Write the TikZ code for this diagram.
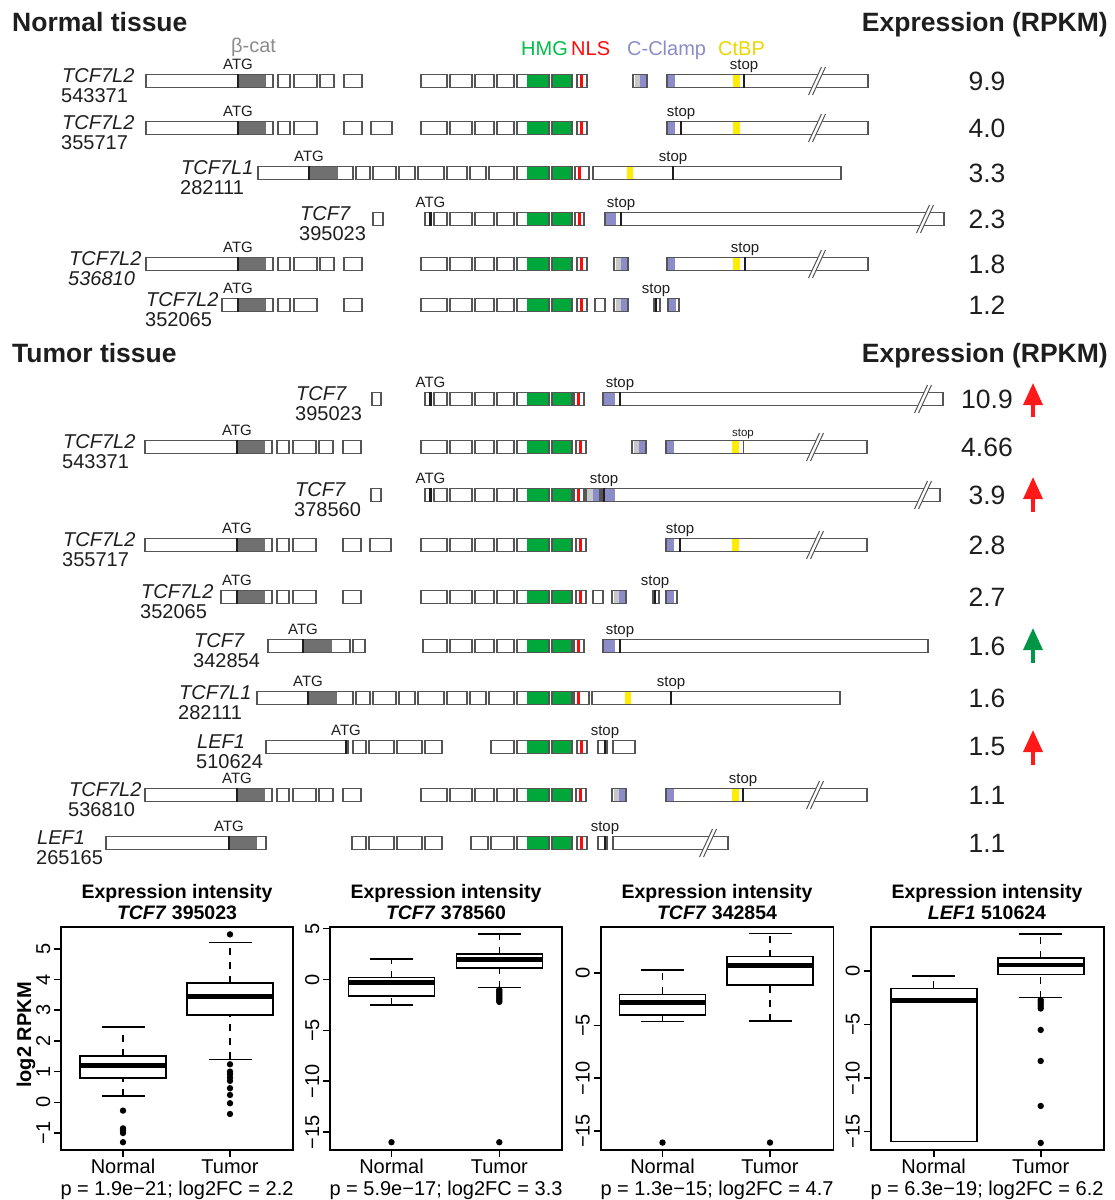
\documentclass[tikz,border=0pt]{standalone}
\usepackage{fontspec}
\setmainfont{Liberation Sans}
\usetikzlibrary{arrows.meta}
\definecolor{hmg}{RGB}{0,168,60}
\definecolor{hmgtxt}{RGB}{0,190,70}
\definecolor{nls}{RGB}{255,10,10}
\definecolor{clamp}{RGB}{140,140,200}
\definecolor{ctbp}{RGB}{255,236,0}
\definecolor{ctbptxt}{RGB}{235,215,0}
\definecolor{bcat}{RGB}{112,112,112}
\definecolor{bcattxt}{RGB}{140,140,140}
\definecolor{ltgrey}{RGB}{200,200,200}
\definecolor{edge}{RGB}{85,85,85}
\definecolor{ink}{RGB}{30,30,30}
\definecolor{upred}{RGB}{255,25,25}
\definecolor{upgreen}{RGB}{0,150,70}
\tikzset{
  exon/.style={draw=edge, line width=1.2pt},
  mk/.style={draw=ink, line width=2.6pt},
  tag/.style={font=\fontsize{15}{15}\selectfont, text=ink, inner sep=0pt},
  gname/.style={font=\fontsize{20}{20}\selectfont\itshape, text=ink, inner sep=0pt},
  gid/.style={font=\fontsize{20}{20}\selectfont, text=ink, inner sep=0pt},
  val/.style={font=\fontsize{26.5}{26.5}\selectfont, text=ink, inner sep=0pt},
  headline/.style={font=\fontsize{26.5}{26.5}\selectfont\bfseries, text=ink, inner sep=0pt},
  leg/.style={font=\fontsize{20}{20}\selectfont, inner sep=0pt, anchor=base west},
  cut/.style={draw=edge, line width=1pt},
  uparrow/.style={-{Triangle[length=22pt,width=19pt]}, line width=3.5pt, draw=#1},
  frame/.style={draw=black, line width=1.6pt},
  bxs/.style={draw=black, line width=1.6pt},
  med/.style={draw=black, line width=4.8pt},
  whisk/.style={draw=black, line width=1.4pt, dash pattern=on 7pt off 7pt},
  ptitle/.style={font=\fontsize{19.5}{19.5}\selectfont\bfseries, inner sep=0pt, anchor=base},
  axlab/.style={font=\fontsize{20}{20}\selectfont, inner sep=0pt, anchor=base},
  ylab/.style={font=\fontsize{20}{20}\selectfont\bfseries, inner sep=0pt, anchor=base, rotate=90},
}
\newcommand{\exons}[2]{\foreach \a/\b in {#2}{\draw[exon] (\a,#1-6.5) rectangle (\b,#1+6.5);}}
\newcommand{\segfill}[4]{\fill[#1] (#2,#4-6.5) rectangle (#3,#4+6.5);}
\newcommand{\hmgcore}[3]{\segfill{hmg}{527}{549}{#1}\segfill{hmg}{552}{572}{#1}%
  \segfill{nls}{#2+2.5}{#2+5.5}{#1}\exons{#1}{517/549,552/572,#2/#3}}
\newcommand{\codon}[4]{\draw[mk] (#2,#3+6.5) -- (#2,#3-7.5);
  \node[tag, anchor=base] (#1) at (#2,#3-11.5) {#4};}
\newcommand{\brk}[2]{\fill[white] (#1-8.5,#2+14) -- (#1+4.5,#2-14) -- (#1+8.5,#2-14) -- (#1-4.5,#2+14) -- cycle;
  \draw[cut] (#1-8.5,#2+14) -- (#1+4.5,#2-14) (#1-4.5,#2+14) -- (#1+8.5,#2-14);}
\newcommand{\glab}[5]{\node[gname, anchor=base west] (#1g) at (#2,#3+1) {#4};
  \node[gid, anchor=base west] (#1i) at (#2-1,#3+21) {#5};}
\newcommand{\rpkm}[3]{\node[val] (#1) at (987,#2) {#3};}
\newcommand{\bxp}[6]{\draw[whisk] (#1,#2) -- (#1,#3) (#1,#5) -- (#1,#6);
  \draw[bxs] (#1-21.5,#2) -- (#1+21.5,#2) (#1-21.5,#6) -- (#1+21.5,#6);
  \draw[bxs] (#1-43,#3) rectangle (#1+43,#5);
  \draw[med] (#1-43,#4) -- (#1+43,#4);}

\begin{document}
\begin{tikzpicture}[x=1pt, y=-1pt]
\useasboundingbox (0,0) rectangle (1115,1200);

% normal tissue
\node[headline, anchor=base west] (nt) at (12,31) {Normal tissue};
\node[headline, anchor=base east] (ne) at (1108,31) {Expression (RPKM)};
\node[leg, text=bcattxt] (lb) at (231,52) {β-cat};
\node[leg, text=hmgtxt] (lh) at (521,55) {HMG};
\node[leg, text=nls] (ln) at (571,55) {NLS};
\node[leg, text=clamp] (lc) at (627,55) {C-Clamp};
\node[leg, text=ctbptxt] (lt) at (718,55) {CtBP};

\glab{n1}{62}{81}{TCF7L2}{543371}
\segfill{bcat}{238}{266}{81}\segfill{ltgrey}{635}{640}{81}\segfill{clamp}{640}{647}{81}
\segfill{clamp}{667}{675}{81}\segfill{ctbp}{733}{740}{81}
\hmgcore{81}{577}{587}
\exons{81}{146/273,278/290,294/317,320/334,344/362,421/447,450/472,475/494,497/514,633/647,667/868}
\codon{n1a}{238}{81}{ATG}\codon{n1s}{744}{81}{stop}
\brk{817}{81}
\rpkm{n1v}{81}{9.9}

\glab{n2}{62}{128}{TCF7L2}{355717}
\segfill{bcat}{238}{266}{128}\segfill{clamp}{667}{675}{128}\segfill{ctbp}{733}{740}{128}
\hmgcore{128}{577}{587}
\exons{128}{146/273,278/290,294/317,344/362,371/392,421/447,450/472,475/494,497/514,667/868}
\codon{n2a}{238}{128}{ATG}\codon{n2s}{681}{128}{stop}
\brk{817}{128}
\rpkm{n2v}{128}{4.0}

\glab{n3}{181}{173}{TCF7L1}{282111}
\segfill{bcat}{309}{338}{173}\segfill{ctbp}{627}{633}{173}
\hmgcore{173}{575}{589}
\exons{173}{258/353,356/370,373/396,399/415,418/444,447/467,470/486,489/514,593/841}
\codon{n3a}{309}{173}{ATG}\codon{n3s}{673}{173}{stop}
\rpkm{n3v}{173}{3.3}

\glab{n4}{300}{219}{TCF7}{395023}
\segfill{clamp}{605}{616}{219}
\hmgcore{219}{575}{584}
\exons{219}{373/383,425/431,434/447,450/472,475/494,497/514,605/944}
\codon{n4a}{430.5}{219}{ATG}\codon{n4s}{621}{219}{stop}
\brk{925}{219}
\rpkm{n4v}{219}{2.3}

\glab{n5}{69}{264}{TCF7L2}{\itshape 536810}
\segfill{bcat}{238}{266}{264}\segfill{ltgrey}{616}{621}{264}\segfill{clamp}{621}{628}{264}
\segfill{clamp}{667}{675}{264}\segfill{ctbp}{733}{740}{264}
\hmgcore{264}{577}{587}
\exons{264}{146/273,278/290,294/317,320/334,344/362,421/447,450/472,475/494,497/514,614/628,667/868}
\codon{n5a}{238}{264}{ATG}\codon{n5s}{745}{264}{stop}
\brk{817}{264}
\rpkm{n5v}{264}{1.8}

\glab{n6}{146}{305}{TCF7L2}{352065}
\segfill{bcat}{238}{266}{305}\segfill{ltgrey}{616}{621}{305}\segfill{clamp}{621}{628}{305}
\segfill{clamp}{668}{676}{305}
\hmgcore{305}{577}{587}
\exons{305}{222/273,278/290,294/317,344/362,421/447,450/472,475/494,497/514,595/605,614/628,654/660,668/679}
\codon{n6a}{238}{305}{ATG}\codon{n6s}{656}{305}{stop}
\rpkm{n6v}{305}{1.2}

% tumor tissue
\node[headline, anchor=base west] (tt) at (12,362) {Tumor tissue};
\node[headline, anchor=base east] (te) at (1108,362) {Expression (RPKM)};

\glab{t1}{296}{399}{TCF7}{395023}
\segfill{clamp}{603}{615}{399}
\hmgcore{399}{574}{584}
\exons{399}{372/381,425/431,434/447,450/472,475/494,497/514,603/943}
\codon{t1a}{430.5}{399}{ATG}\codon{t1s}{620}{399}{stop}
\brk{923}{399}
\rpkm{t1v}{399}{10.9}
\coordinate (u1s) at (1033,417); \coordinate (u1e) at (1033,383);
\draw[uparrow=upred] (u1s) -- (u1e);

\glab{t2}{63}{447}{TCF7L2}{543371}
\segfill{bcat}{237}{265}{447}\segfill{ltgrey}{634}{639}{447}\segfill{clamp}{639}{646}{447}
\segfill{clamp}{666}{674}{447}\segfill{ctbp}{732}{739}{447}
\hmgcore{447}{576}{586}
\exons{447}{145/272,277/289,293/316,319/333,343/361,421/447,450/472,475/494,497/514,632/646,666/867}
\codon{t2a}{237}{447}{ATG}
\draw[edge, line width=1pt] (743,453.5) -- (743,440);
\node[tag, font=\fontsize{11.5}{11.5}\selectfont, anchor=base] (t2s) at (743,436.5) {stop};
\brk{815}{447}
\rpkm{t2v}{447}{4.66}

\glab{t3}{295}{495}{TCF7}{378560}
\segfill{ltgrey}{587}{593}{495}\segfill{clamp}{593}{600}{495}\segfill{clamp}{605}{615}{495}
\hmgcore{495}{574}{584}
\exons{495}{371/381,425/431,434/447,450/472,475/494,497/514,586/600,602/940}
\codon{t3a}{430.5}{495}{ATG}\codon{t3s}{604}{495}{stop}
\brk{923}{495}
\rpkm{t3v}{495}{3.9}
\coordinate (u3s) at (1033,512); \coordinate (u3e) at (1033,477);
\draw[uparrow=upred] (u3s) -- (u3e);

\glab{t4}{63}{545}{TCF7L2}{355717}
\segfill{bcat}{237}{265}{545}\segfill{clamp}{666}{674}{545}\segfill{ctbp}{732}{739}{545}
\hmgcore{545}{576}{586}
\exons{545}{145/272,277/289,293/316,343/361,370/391,421/447,450/472,475/494,497/514,666/867}
\codon{t4a}{237}{545}{ATG}\codon{t4s}{680}{545}{stop}
\brk{815}{545}
\rpkm{t4v}{545}{2.8}

\glab{t5}{141}{597}{TCF7L2}{352065}
\segfill{bcat}{237}{265}{597}\segfill{ltgrey}{614}{619}{597}\segfill{clamp}{619}{626}{597}
\segfill{clamp}{666}{674}{597}
\hmgcore{597}{576}{586}
\exons{597}{221/272,277/289,293/316,343/361,421/447,450/472,475/494,497/514,593/603,612/626,653/659,666/677}
\codon{t5a}{237}{597}{ATG}\codon{t5s}{655}{597}{stop}
\rpkm{t5v}{597}{2.7}

\glab{t6}{194}{646}{TCF7}{342854}
\segfill{bcat}{303}{332}{646}\segfill{clamp}{603}{615}{646}
\hmgcore{646}{574}{584}
\exons{646}{268/350,353/365,423/447,450/472,475/494,497/514,603/928}
\codon{t6a}{303}{646}{ATG}\codon{t6s}{620}{646}{stop}
\rpkm{t6v}{646}{1.6}
\coordinate (u6s) at (1033,663); \coordinate (u6e) at (1033,628);
\draw[uparrow=upgreen] (u6s) -- (u6e);

\glab{t7}{179}{698}{TCF7L1}{282111}
\segfill{bcat}{308}{337}{698}\segfill{ctbp}{625}{631}{698}
\hmgcore{698}{574}{589}
\exons{698}{257/353,356/370,373/396,399/415,418/444,447/467,470/486,489/514,592/840}
\codon{t7a}{308}{698}{ATG}\codon{t7s}{671}{698}{stop}
\rpkm{t7v}{698}{1.6}

\glab{t8}{197}{747}{LEF1}{510624}
\hmgcore{747}{577}{587}
\exons{747}{266/348,353/366,369/394,397/422,425/442,491/514,598/607,613/635}
\codon{t8a}{346}{747}{ATG}\codon{t8s}{605}{747}{stop}
\rpkm{t8v}{747}{1.5}
\coordinate (u8s) at (1033,765); \coordinate (u8e) at (1033,730);
\draw[uparrow=upred] (u8s) -- (u8e);

\glab{t9}{69}{795}{TCF7L2}{536810}
\segfill{bcat}{237}{265}{795}\segfill{ltgrey}{614}{619}{795}\segfill{clamp}{619}{626}{795}
\segfill{clamp}{666}{674}{795}\segfill{ctbp}{732}{739}{795}
\hmgcore{795}{576}{586}
\exons{795}{145/272,277/289,293/316,319/333,343/361,421/447,450/472,475/494,497/514,612/626,666/867}
\codon{t9a}{237}{795}{ATG}\codon{t9s}{743}{795}{stop}
\brk{815}{795}
\rpkm{t9v}{795}{1.1}

\glab{t10}{37}{843}{LEF1}{265165}
\segfill{bcat}{229}{257}{843}
\hmgcore{843}{577}{587}
\exons{843}{106/266,352/366,369/394,397/422,425/442,471/488,491/514,598/607,613/728}
\codon{t10a}{229}{843}{ATG}\codon{t10s}{605}{843}{stop}
\brk{708}{843}
\rpkm{t10v}{843}{1.1}

% box plots
\node[ylab] (yl) at (31,1035) {log2 RPKM};

\node[ptitle] (p1a) at (177,898) {Expression intensity};
\node[ptitle] (p1b) at (177,919) {\textit{TCF7} 395023};
\draw[frame] (61,926.7) rectangle (293,1150);
\begin{scope}[shift={(0,1102.3)}, y={(0pt,30.7pt)}]
  \bxp{123}{0.2}{0.8}{1.2}{1.5}{2.45}
  \bxp{230}{1.4}{2.84}{3.44}{3.88}{5.2}
  \foreach \v in {-0.27,-0.85,-0.92,-1.0,-1.3} \fill (123,\v) circle (3.2pt);
  \foreach \v in {5.47,1.24,1.0,0.92,0.81,0.7,0.46,0.24,-0.03,-0.38} \fill (230,\v) circle (3.2pt);
  \foreach \v/\t [count=\k] in {-1/−1,0/0,1/1,2/2,3/3,4/4,5/5}{
    \draw[bxs] (61,\v) -- (54,\v);
    \node[axlab, rotate=90] (p1y\k) at (50,\v) {\t};}
\end{scope}
\draw[bxs] (123,1150) -- (123,1157); \node[axlab] (p1n) at (123,1173) {Normal};
\draw[bxs] (230,1150) -- (230,1157); \node[axlab] (p1t) at (230,1173) {Tumor};
\node[axlab] (p1p) at (177,1195) {p = 1.9e−21; log2FC = 2.2};

\node[ptitle] (p2a) at (446,898) {Expression intensity};
\node[ptitle] (p2b) at (446,919) {\textit{TCF7} 378560};
\draw[frame] (330,926.7) rectangle (561.7,1150);
\begin{scope}[shift={(0,979.5)}, y={(0pt,10.17pt)}]
  \bxp{391.5}{-2.5}{-1.63}{-0.3}{0.18}{2.0}
  \bxp{499.3}{-0.8}{1.16}{2.0}{2.5}{4.45}
  \fill (391.5,-16) circle (3.2pt);
  \foreach \v in {-1.0,-1.15,...,-2.3} \fill (499.3,\v) circle (3.2pt);
  \fill (499.3,-16) circle (3.2pt);
  \foreach \v/\t [count=\k] in {-15/−15,-10/−10,-5/−5,0/0,5/5}{
    \draw[bxs] (330,\v) -- (323,\v);
    \node[axlab, rotate=90] (p2y\k) at (319,\v) {\t};}
\end{scope}
\draw[bxs] (391.5,1150) -- (391.5,1157); \node[axlab] (p2n) at (391.5,1173) {Normal};
\draw[bxs] (499.3,1150) -- (499.3,1157); \node[axlab] (p2t) at (499.3,1173) {Tumor};
\node[axlab] (p2p) at (446,1195) {p = 5.9e−17; log2FC = 3.3};

\node[ptitle] (p3a) at (717,898) {Expression intensity};
\node[ptitle] (p3b) at (717,919) {\textit{TCF7} 342854};
\draw[frame] (600.7,926.7) rectangle (833.3,1150);
\begin{scope}[shift={(0,972.7)}, y={(0pt,10.55pt)}]
  \bxp{662.5}{-4.64}{-4.0}{-2.84}{-2.05}{0.25}
  \bxp{770}{-4.58}{-1.17}{0.67}{1.52}{3.73}
  \fill (662.5,-16.1) circle (3.2pt);
  \fill (770,-16.1) circle (3.2pt);
  \foreach \v/\t [count=\k] in {-15/−15,-10/−10,-5/−5,0/0}{
    \draw[bxs] (600.7,\v) -- (593.7,\v);
    \node[axlab, rotate=90] (p3y\k) at (589.7,\v) {\t};}
\end{scope}
\draw[bxs] (662.5,1150) -- (662.5,1157); \node[axlab] (p3n) at (662.5,1173) {Normal};
\draw[bxs] (770,1150) -- (770,1157); \node[axlab] (p3t) at (770,1173) {Tumor};
\node[axlab] (p3p) at (717,1195) {p = 1.3e−15; log2FC = 4.7};

\node[ptitle] (p4a) at (987,898) {Expression intensity};
\node[ptitle] (p4b) at (987,919) {\textit{LEF1} 510624};
\draw[frame] (870.7,926.7) rectangle (1104,1150);
\begin{scope}[shift={(0,971)}, y={(0pt,10.71pt)}]
  \bxp{933.7}{-15.9}{-15.9}{-2.77}{-1.62}{-0.47}
  \bxp{1040.7}{-2.49}{-0.31}{0.56}{1.24}{3.45}
  \foreach \v in {-2.7,-2.9,-3.1,-3.3,-3.5,-5.5,-8.4,-12.6,-16.05} \fill (1040.7,\v) circle (3.2pt);
  \foreach \v/\t [count=\k] in {-15/−15,-10/−10,-5/−5,0/0}{
    \draw[bxs] (870.7,\v) -- (863.7,\v);
    \node[axlab, rotate=90] (p4y\k) at (859.7,\v) {\t};}
\end{scope}
\draw[bxs] (933.7,1150) -- (933.7,1157); \node[axlab] (p4n) at (933.7,1173) {Normal};
\draw[bxs] (1040.7,1150) -- (1040.7,1157); \node[axlab] (p4t) at (1040.7,1173) {Tumor};
\node[axlab] (p4p) at (987,1195) {p = 6.3e−19; log2FC = 6.2};
\end{tikzpicture}
\end{document}
